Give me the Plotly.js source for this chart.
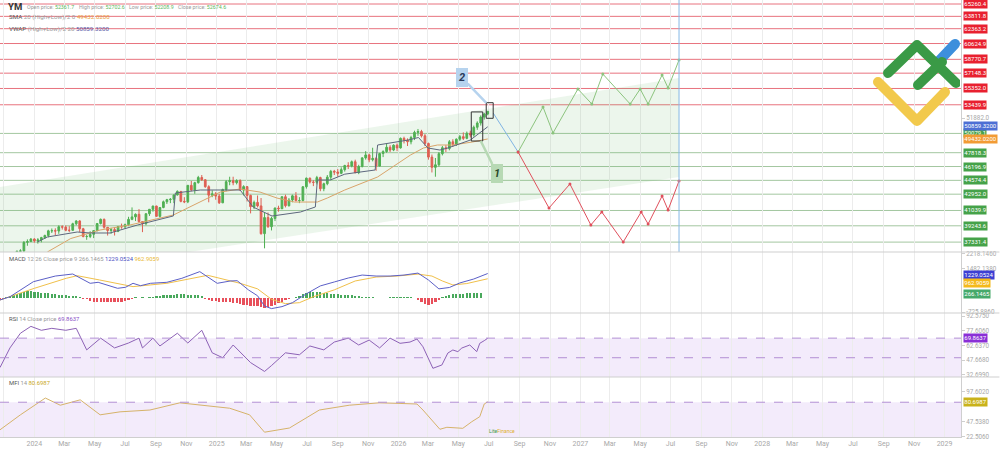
<!DOCTYPE html>
<html><head><meta charset="utf-8">
<script src="https://cdn.plot.ly/plotly-3.0.1.min.js"></script>
<style>html,body{margin:0;padding:0;background:#fff;overflow:hidden}#chart{width:1000px;height:449px}</style>
</head><body><div id="chart"></div>
<script>
// ---------------- DATA ----------------
const firstWeek = '2023-10-23';
const openP = [33400,32800,34100,34300,34950,35400,36250,36300,37300,37390,37690,37470,37590,37860,38110,38650,38670,38630,39130,39090,38720,38710,39480,39810,38900,37980,37990,38240,38680,39510,40000,39070,38690,38800,38590,39150,39120,39380,40000,40290,40590,39740,39500,40660,41180,41560,40350,41390,42060,42310,42350,42860,43280,42110,42050,43990,43450,44300,44910,44640,43830,42840,42990,42730,41940,43490,44420,44540,44300,44550,43430,43840,42800,41490,41990,41580,38320,40210,39140,40110,41320,41250,42650,41600,42270,42760,42200,42210,43820,44830,44370,44340,44900,43590,44180,44950,45630,45550,45400,45830,46310,46250,46760,45480,46190,47210,47560,46990,47150,46250,47720,47950,48460,48130,48700,48380,49500,49300,49100,49600,50200,50300,49800,48900,47300,46100,46400,47700,48400,48300,49100,48800,49400,49700,49500,50100,49900,50800,51300,52000,52361.7];
const highP = [33700,34200,34500,35100,35500,36350,36500,37450,37650,37800,37780,37800,37950,38200,38780,38930,38950,39300,39300,39280,39200,39600,39900,39900,39000,38200,38600,38700,39550,40100,40100,39100,39000,39100,39200,39500,39500,40300,41400,40700,41200,39800,40700,41200,41600,41600,41400,42200,42400,42500,42900,43400,43300,42600,44000,44500,44400,45100,45200,44700,44000,43400,43200,43000,43600,44600,45000,45000,44700,44700,44000,43900,42900,42200,42800,42500,40800,40800,40300,41400,41600,42700,42900,42500,42900,43200,42600,43900,44900,44900,44600,45100,45000,44300,45200,45800,45800,45900,46100,46400,46700,46900,47000,46400,47300,48000,47700,48400,47300,47800,48100,48900,48700,48800,48900,49600,49700,49500,49800,50400,50600,50500,50000,49000,47600,47200,47900,48600,48700,49300,49400,49500,49900,50200,50300,50400,51000,51500,52200,52500,52702.6];
const lowP = [32600,32700,33700,34100,34900,35200,36000,36150,36900,37350,37250,37150,37300,37700,37900,38400,38150,38300,38800,38600,38500,38700,39300,38500,37900,37600,37800,37800,38600,39400,38900,38100,38300,38100,38500,38900,38900,39200,39900,39800,39600,38500,39300,40400,40900,40300,40200,41300,41800,41900,41900,42800,42000,41900,41900,43300,43000,44200,44500,43700,42000,42600,42300,41800,41900,43300,44000,44000,44100,43400,42800,42100,40700,41200,41400,38200,36600,39000,38700,39800,40900,41200,41400,41500,42000,42100,41900,42100,43600,44200,43900,44100,43300,43300,44000,44600,45200,45000,45300,45600,45900,46100,45400,45300,46100,47000,46700,46800,45700,46200,47300,47800,47900,48000,48000,48300,48900,48600,48800,49300,49800,49600,48600,47000,45500,45000,46200,47500,47900,48100,48500,48600,49200,49300,49400,49600,49700,50500,51000,51700,52208.9];
const closeP = [32800,34100,34300,34950,35400,36250,36300,37300,37390,37690,37470,37590,37860,38110,38650,38670,38630,39130,39090,38720,38710,39480,39810,38900,37980,37990,38240,38680,39510,40000,39070,38690,38800,38590,39150,39120,39380,40000,40290,40590,39740,39500,40660,41180,41560,40350,41390,42060,42310,42350,42860,43280,42110,42050,43990,43450,44300,44910,44640,43830,42840,42990,42730,41940,43490,44420,44540,44300,44550,43430,43840,42800,41490,41990,41580,38320,40210,39140,40110,41320,41250,42650,41600,42270,42760,42200,42210,43820,44830,44370,44340,44900,43590,44180,44950,45630,45550,45400,45830,46310,46250,46760,45480,46190,47210,47560,46990,47150,46250,47720,47950,48460,48130,48700,48380,49500,49300,49100,49600,50200,50300,49800,48900,47300,46100,46400,47700,48400,48300,49100,48800,49400,49700,49500,50100,49900,50800,51300,52000,52360,52674.6];

// moving averages
const vwapDates = ['2024-01-07','2024-01-27','2024-03-27','2024-04-22','2024-06-01','2024-07-26','2024-10-06','2024-10-10','2024-11-29','2025-02-17','2025-03-15','2025-04-04','2025-04-22','2025-06-18','2025-07-18','2025-07-22','2025-08-17','2025-09-15','2025-11-15','2025-11-20','2026-01-20','2026-02-10','2026-03-01','2026-03-25','2026-04-10','2026-05-25','2026-06-15','2026-06-29'];
const vwapVals  = [37343,37930,38516,38400,38400,39337,40400,43090,43443,43443,41450,40860,40390,40860,41450,44616,44616,45300,45790,48720,49300,49600,48370,48130,48370,49300,50250,50859.32];
const smaDates = ['2024-01-27','2024-03-14','2024-05-12','2024-07-11','2024-10-06','2024-11-29','2025-01-08','2025-02-17','2025-03-29','2025-05-02','2025-06-06','2025-07-22','2025-08-11','2025-09-15','2025-11-20','2026-01-25','2026-02-20','2026-03-20','2026-04-20','2026-05-30','2026-06-29'];
const smaVals  = [36170,37750,38750,39340,40510,42030,43200,43560,43200,42500,42030,42030,42500,43440,44970,47550,48370,48720,48720,49080,49432.02];

// MACD 12 26 9
const macdDates = ['2023-10-24','2023-11-13','2023-12-30','2024-02-12','2024-03-18','2024-04-22','2024-05-08','2024-06-16','2024-07-02','2024-07-17','2024-08-01','2024-08-21','2024-09-23','2024-10-23','2024-11-28','2025-01-02','2025-01-28','2025-02-11','2025-03-06','2025-03-24','2025-04-07','2025-04-21','2025-05-12','2025-06-02','2025-06-30','2025-07-28','2025-08-25','2025-09-22','2025-10-20','2025-11-17','2025-12-15','2026-01-12','2026-02-09','2026-03-02','2026-03-23','2026-04-13','2026-05-04','2026-06-01','2026-06-29'];
const macdVals = [-114,50,814,1100,1204,732,783,479,530,732,611,732,783,986,1324,732,849,865,393,100,-420,-550,-450,-250,200,600,800,1000,1150,1100,1100,1150,1250,900,450,520,750,950,1229.0524];
const signalDates = ['2023-10-24','2024-01-01','2024-03-05','2024-03-27','2024-05-11','2024-07-17','2024-09-23','2024-11-28','2024-12-14','2025-02-17','2025-03-24','2025-04-21','2025-05-19','2025-06-16','2025-07-14','2025-08-25','2025-10-06','2025-11-17','2025-12-29','2026-02-09','2026-03-09','2026-03-30','2026-04-20','2026-05-18','2026-06-29'];
const signalVals = [-114,479,986,1118,900,563,732,1070,1138,732,450,-80,-300,-250,50,400,850,1050,1100,1200,1100,850,650,720,962.9059];
const macdHist = [-120,-60,30,90,150,200,250,290,320,320,300,280,260,240,230,200,180,160,140,120,110,100,70,40,-60,-80,-150,-200,-230,-240,-230,-210,-200,-210,-220,-200,-160,-120,-80,20,-20,15,-10,40,60,80,100,120,140,150,160,170,180,170,160,150,140,130,100,-50,-100,-150,-180,-200,-220,-230,-240,-250,-260,-300,-350,-380,-400,-420,-440,-460,-500,-470,-420,-350,-280,-200,-130,-60,-10,40,100,170,230,280,310,300,280,260,230,200,180,170,160,150,130,120,110,80,40,30,40,20,-10,-30,-20,10,30,40,50,40,50,60,40,-30,-100,-200,-320,-380,-330,-220,-100,30,100,150,180,190,200,210,220,240,250,260,266.1465];

// RSI 14
const rsiDates = ['2023-10-24','2023-11-13','2023-12-04','2023-12-25','2024-01-15','2024-02-05','2024-03-04','2024-03-25','2024-04-15','2024-05-13','2024-06-10','2024-07-08','2024-07-29','2024-08-05','2024-08-26','2024-09-09','2024-10-14','2024-11-04','2024-12-02','2024-12-23','2025-01-13','2025-02-03','2025-03-10','2025-04-07','2025-04-21','2025-05-19','2025-06-16','2025-07-07','2025-08-04','2025-08-25','2025-09-22','2025-10-13','2025-11-03','2025-11-24','2025-12-15','2026-01-04','2026-01-24','2026-02-07','2026-02-19','2026-03-11','2026-03-29','2026-04-10','2026-04-20','2026-04-30','2026-05-08','2026-05-24','2026-06-07','2026-06-13','2026-06-22','2026-06-29'];
const rsiVals = [40,60,75,82,78,80,78,80,58,70,60,65,70,60,70,62,75,65,78,55,50,63,45,36,42,55,53,62,58,66,70,63,68,60,70,64.7,66,69.1,61.2,39.2,42.6,54.8,57.9,56.2,59.9,63,56.2,64.7,67.4,69.8637];

// MFI 14
const mfiDates = ['2023-10-24','2023-12-04','2024-01-23','2024-02-22','2024-04-02','2024-05-12','2024-06-21','2024-08-20','2024-10-19','2024-11-28','2025-01-27','2025-03-08','2025-04-07','2025-05-27','2025-07-26','2025-09-24','2025-11-23','2026-01-04','2026-02-07','2026-02-19','2026-03-11','2026-03-25','2026-04-08','2026-05-10','2026-05-28','2026-06-13','2026-06-22','2026-06-29'];
const mfiVals = [34,59,87,75,84,59,64,67,79,75,70,59,30,37,67,75,79,78,77,67,47.5,34.9,38.2,36.5,47.5,55.9,77.1,80.6987];

// levels & forecast
const resistanceLevels = [65260.4,63811.8,62363.2,60624.9,58770.7,57148.3,55352.0,53439.9];
const supportLevels = [50079.1,47818.3,46196.9,44574.4,42952.0,41039.9,39243.6,37331.4];
const vwapLast = 50859.32, smaLast = 49432.02;
const channelDates = ['2023-10-24','2027-07-18','2027-07-18','2023-10-24'];
const channelVals = [43795,56580,44970,32770];
const bridgeDates = ['2026-07-10','2026-08-29'];
const bridgeVals = [52475,47900];
const bullDates = ['2026-08-29','2026-10-18','2026-11-07','2026-12-27','2027-01-24','2027-02-15','2027-04-11','2027-05-01','2027-05-17','2027-06-14','2027-06-26','2027-07-18'];
const bullVals = [47900,53178,50130,55290,53530,57050,53530,55290,53530,56930,55410,58690];
const bearDates = ['2026-08-29','2026-10-30','2026-12-11','2027-01-22','2027-02-13','2027-03-28','2027-05-03','2027-05-17','2027-06-14','2027-06-26','2027-07-18'];
const bearVals = [47900,41330,44147,39337,40862,37343,40862,39454,42739,41097,44498];
const forecastEnd = '2027-07-18';
const box1 = {x0:'2026-05-27', x1:'2026-06-19', y0:49190, y1:52600};
const box2 = {x0:'2026-06-26', x1:'2026-07-10', y0:51854, y1:53684};

const mainTicks = [51882.0];
const macdTicks = [2218.1460,1482.1380,-725.8860];
const rsiTicks = [92.5750,77.6060,62.6370,47.6680,32.6990];
const mfiTicks = [97.6020,47.5380,22.5060];
const monthNames = ['Jan','Feb','Mar','Apr','May','Jun','Jul','Aug','Sep','Oct','Nov','Dec'];

// ---------------- BUILD ----------------
function addDays(s, n){const d=new Date(s+'T00:00:00Z');d.setUTCDate(d.getUTCDate()+n);return d.toISOString().slice(0,10);}
const weekDates = closeP.map((_,i)=>addDays(firstWeek,7*i));
const tickVals=[], tickText=[];
for(let y=2023,m=11; y<2029 || (y===2029 && m===1); ){
  tickVals.push(y+'-'+String(m).padStart(2,'0')+'-01');
  tickText.push(m===1?String(y):monthNames[m-1]);
  m+=2; if(m>12){m-=12;y++;}
}
const W=961, H=437;
const PX=x=>x/W, PY=y=>1-y/H;
const FONT='Roboto, "Open Sans", sans-serif';
const GREEN='#4caf50', RED='#ef5350';

const traces=[
  {type:'scatter',mode:'lines',x:channelDates,y:channelVals,fill:'toself',fillcolor:'rgba(110,185,110,0.13)',line:{width:0},hoverinfo:'skip',xaxis:'x',yaxis:'y'},
  {type:'candlestick',x:weekDates,open:openP,high:highP,low:lowP,close:closeP,xaxis:'x',yaxis:'y',
   increasing:{line:{color:GREEN,width:1},fillcolor:GREEN},decreasing:{line:{color:RED,width:1},fillcolor:RED},whiskerwidth:0,hoverinfo:'skip'},
  {type:'scatter',mode:'lines',x:smaDates,y:smaVals,line:{color:'#d9a46a',width:1},xaxis:'x',yaxis:'y',hoverinfo:'skip'},
  {type:'scatter',mode:'lines',x:vwapDates,y:vwapVals,line:{color:'#5d677d',width:1},xaxis:'x',yaxis:'y',hoverinfo:'skip'},
  {type:'scatter',mode:'lines',x:bridgeDates,y:bridgeVals,line:{color:'#7fb3e3',width:1},xaxis:'x',yaxis:'y',hoverinfo:'skip'},
  {type:'scatter',mode:'lines+markers',x:bullDates,y:bullVals,line:{color:'#8cc47e',width:1},marker:{size:3,color:'#8cc47e'},xaxis:'x',yaxis:'y',hoverinfo:'skip'},
  {type:'scatter',mode:'lines+markers',x:bearDates,y:bearVals,line:{color:'#e0505c',width:1},marker:{size:3,color:'#e0505c'},xaxis:'x',yaxis:'y',hoverinfo:'skip'},
  {type:'bar',x:weekDates,y:macdHist,marker:{color:macdHist.map(v=>v>=0?'#49a95c':'#e8505b')},width:4.5*86400000,xaxis:'x',yaxis:'y2',hoverinfo:'skip'},
  {type:'scatter',mode:'lines',x:signalDates,y:signalVals,line:{color:'#f0c04a',width:1},xaxis:'x',yaxis:'y2',hoverinfo:'skip'},
  {type:'scatter',mode:'lines',x:macdDates,y:macdVals,line:{color:'#5b5fc7',width:1},xaxis:'x',yaxis:'y2',hoverinfo:'skip'},
  {type:'scatter',mode:'lines',x:rsiDates,y:rsiVals,line:{color:'#8d62b6',width:1},xaxis:'x',yaxis:'y3',hoverinfo:'skip'},
  {type:'scatter',mode:'lines',x:mfiDates,y:mfiVals,line:{color:'#d6b36a',width:1},xaxis:'x',yaxis:'y4',hoverinfo:'skip'}
];

const shapes=[];
resistanceLevels.forEach(v=>shapes.push({type:'line',xref:'paper',x0:0,x1:1,yref:'y',y0:v,y1:v,line:{color:'#e8737e',width:1},layer:'below'}));
supportLevels.forEach(v=>shapes.push({type:'line',xref:'paper',x0:0,x1:1,yref:'y',y0:v,y1:v,line:{color:'#a3c7a0',width:1},layer:'below'}));
shapes.push({type:'line',xref:'x',x0:forecastEnd,x1:forecastEnd,yref:'y domain',y0:0,y1:1,line:{color:'#86b8e6',width:1}});
[box1,box2].forEach(b=>shapes.push({type:'rect',xref:'x',yref:'y',x0:b.x0,x1:b.x1,y0:b.y0,y1:b.y1,line:{color:'#333',width:1},fillcolor:'rgba(0,0,0,0)'}));
shapes.push({type:'rect',xref:'paper',x0:0,x1:1,yref:'y3',y0:30,y1:70,fillcolor:'rgba(180,130,230,0.16)',line:{width:0},layer:'below'});
shapes.push({type:'line',xref:'paper',x0:0,x1:1,yref:'y3',y0:70,y1:70,line:{color:'#b28fd4',width:1,dash:'dash'}});
shapes.push({type:'line',xref:'paper',x0:0,x1:1,yref:'y3',y0:50,y1:50,line:{color:'#b28fd4',width:1,dash:'dash'}});
shapes.push({type:'rect',xref:'paper',x0:0,x1:1,yref:'y4',y0:20,y1:80,fillcolor:'rgba(180,130,230,0.16)',line:{width:0},layer:'below'});
shapes.push({type:'line',xref:'paper',x0:0,x1:1,yref:'y4',y0:80,y1:80,line:{color:'#b28fd4',width:1,dash:'dash'}});
[252,313,377].forEach(y=>shapes.push({type:'line',xref:'paper',x0:0,x1:1.04,yref:'paper',y0:PY(y),y1:PY(y),line:{color:'#cfcfcf',width:1}}));

const annotations=[];
function tag(val,yref,bg,txt,shift){
  annotations.push({xref:'paper',x:1,xanchor:'left',xshift:2,yref:yref,y:val,yanchor:'middle',yshift:shift||0,text:txt,showarrow:false,
    bgcolor:bg,borderpad:0.3,font:{family:FONT,size:6,color:'#fff'}});
}
resistanceLevels.forEach(v=>tag(v,'y','#e8202f',v.toFixed(1)));
supportLevels.forEach(v=>tag(v,'y','#45a249',v.toFixed(1)));
tag(vwapLast,'y','#4d6fd4',vwapLast.toFixed(4),0.5);
tag(smaLast,'y','#f29b35',smaLast.toFixed(4),-0.5);
tag(macdVals[macdVals.length-1],'y2','#3d3fd3',macdVals[macdVals.length-1].toFixed(4),-1);
tag(signalVals[signalVals.length-1],'y2','#f4b91c',signalVals[signalVals.length-1].toFixed(4),-4.5);
tag(macdHist[macdHist.length-1],'y2','#46a96b',macdHist[macdHist.length-1].toFixed(4),-1);
tag(rsiVals[rsiVals.length-1],'y3','#8a2fd6',rsiVals[rsiVals.length-1].toFixed(4));
tag(mfiVals[mfiVals.length-1],'y4','#c9b21a',mfiVals[mfiVals.length-1].toFixed(4));

function txt(x,y,text,size,color){
  annotations.push({xref:'paper',yref:'paper',x:PX(x),y:PY(y),xanchor:'left',yanchor:'middle',text:text,showarrow:false,font:{family:FONT,size:size,color:color}});
}
const G='#9a9a9a', VG='#5cb85c';
txt(6,7,'<b>YM</b>',9.5,'#333');
txt(25,7,'Open price: <span style="color:'+VG+'">'+openP[openP.length-1].toFixed(1)+'</span>',5.3,G);
txt(77,7,'High price: <span style="color:'+VG+'">'+highP[highP.length-1].toFixed(1)+'</span>',5.3,G);
txt(127,7,'Low price: <span style="color:'+VG+'">'+lowP[lowP.length-1].toFixed(1)+'</span>',5.3,G);
txt(176,7,'Close price: <span style="color:'+VG+'">'+closeP[closeP.length-1].toFixed(1)+'</span>',5.3,G);
txt(7,17,'<span style="color:#555">SMA</span> 20 (High+Low)/2 0 <span style="color:#e8a040">'+smaLast.toFixed(4)+'</span>',6.2,G);
txt(7,29,'<span style="color:#555">VWAP</span> (High+Low)/2 20 <span style="color:#5a5aa8">'+vwapLast.toFixed(4)+'</span>',6.2,G);
txt(7,259,'<span style="color:#555">MACD</span> 12 26 Close price 9 '+macdHist[macdHist.length-1].toFixed(4)+' <span style="color:#4b4fc4">'+macdVals[macdVals.length-1].toFixed(4)+'</span> <span style="color:#e8b830">'+signalVals[signalVals.length-1].toFixed(4)+'</span>',5.9,G);
txt(7,319,'<span style="color:#555">RSI</span> 14 Close price <span style="color:#8a4fc6">'+rsiVals[rsiVals.length-1].toFixed(4)+'</span>',5.9,G);
txt(7,383,'<span style="color:#555">MFI</span> 14 <span style="color:#c9a81a">'+mfiVals[mfiVals.length-1].toFixed(4)+'</span>',5.9,G);
txt(487,431,'<span style="color:#3f9a4a">Lite</span><span style="color:#e0b030">Finance</span>',5,'#3f9a4a');

annotations.push({xref:'x',yref:'y',x:'2026-06-26',y:53649,ax:-24,ay:-25,text:'<b><i>2</i></b>',showarrow:true,arrowhead:0,arrowwidth:2.5,arrowcolor:'#b6d3ee',
  bgcolor:'#b6d3ee',bordercolor:'#b6d3ee',borderpad:2,font:{family:FONT,size:11,color:'#2a3a5a'},standoff:0});
annotations.push({xref:'x',yref:'y',x:'2026-06-15',y:49190,ax:16,ay:32,text:'<b><i>1</i></b>',showarrow:true,arrowhead:0,arrowwidth:2.5,arrowcolor:'#b7d9b4',
  bgcolor:'#b7d9b4',bordercolor:'#b7d9b4',borderpad:2,font:{family:FONT,size:11,color:'#2a4a2a'},standoff:0});

const logoSvg='<svg xmlns="http://www.w3.org/2000/svg" viewBox="0 0 90 90"><g fill="none" stroke-linecap="round" stroke-linejoin="round" stroke-width="10">'+
 '<polyline points="67,25 85,6" stroke="#3d8fdc"/>'+
 '<polyline points="8,44 47,83 75,54" stroke="#f2c94c"/>'+
 '<polyline points="18,35 47,7 86,45" stroke="#3a9a46"/>'+
 '<polyline points="48,47 72,24" stroke="#3a9a46"/></g></svg>';
const images=[{source:'data:image/svg+xml;base64,'+btoa(logoSvg),xref:'paper',yref:'paper',x:PX(870),y:PY(38),sizex:90/W,sizey:90/H,xanchor:'left',yanchor:'top',sizing:'stretch',layer:'above'}];

const yCommon={side:'right',anchor:'x',showline:true,linecolor:'#cfcfcf',ticks:'outside',ticklen:3,tickcolor:'#cfcfcf',
  tickfont:{family:FONT,size:6.3,color:'#a8a8a8'},showgrid:false,zeroline:false,fixedrange:true};
const layout={
  width:1000,height:449,margin:{l:0,r:39,t:0,b:12},paper_bgcolor:'#fff',plot_bgcolor:'#fff',showlegend:false,
  font:{family:FONT},
  xaxis:{type:'date',range:['2023-10-24','2029-02-03'],anchor:'y4',domain:[0,1],tickvals:tickVals,ticktext:tickText,
    tickfont:{family:FONT,size:7,color:'#a8a8a8'},showgrid:true,gridcolor:'#ececec',gridwidth:1,showline:true,linecolor:'#cfcfcf',
    ticks:'',rangeslider:{visible:false},fixedrange:true},
  yaxis:Object.assign({},yCommon,{domain:[1-252/H,1],range:[36170,65730],tickvals:mainTicks,ticktext:mainTicks.map(v=>v.toFixed(1))}),
  yaxis2:Object.assign({},yCommon,{domain:[1-313/H,1-252/H],range:[-773,2319],tickvals:macdTicks,ticktext:macdTicks.map(v=>v.toFixed(4))}),
  yaxis3:Object.assign({},yCommon,{domain:[1-377/H,1-313/H],range:[30.33,95.64],tickvals:rsiTicks,ticktext:rsiTicks.map(v=>v.toFixed(4))}),
  yaxis4:Object.assign({},yCommon,{domain:[0,1-377/H],range:[22.0,122.1],tickvals:mfiTicks,ticktext:mfiTicks.map(v=>v.toFixed(4))}),
  shapes:shapes,annotations:annotations,images:images,bargap:0
};
Plotly.newPlot('chart',traces,layout,{staticPlot:true,displayModeBar:false});
</script></body></html>
